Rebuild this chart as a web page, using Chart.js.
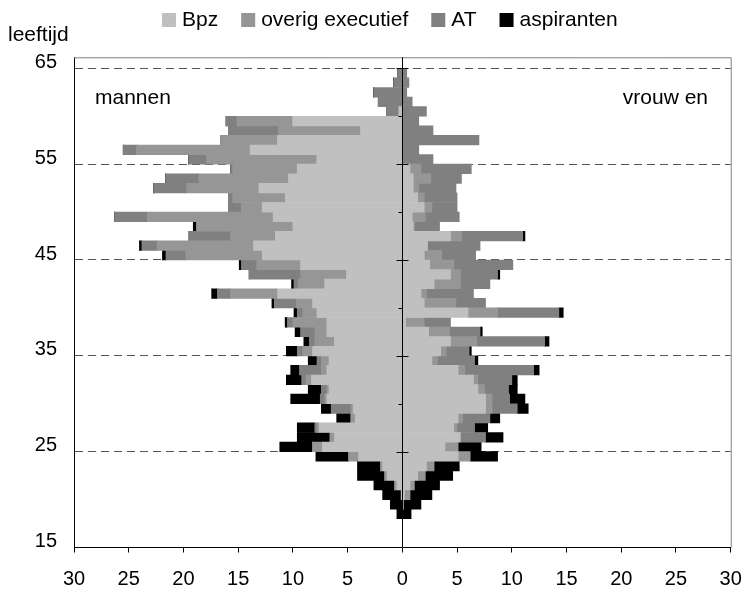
<!DOCTYPE html>
<html>
<head>
<meta charset="utf-8">
<script src="https://cdn.jsdelivr.net/npm/chart.js@4.4.1/dist/chart.umd.min.js"></script>
<style>
  html, body { margin: 0; padding: 0; background: #fff; }
  canvas { display: block; }
</style>
</head>
<body>
<canvas id="pyramid" width="742" height="590"></canvas>
<script>
// age per bar (each bar covers one year: age .. age+1)
const ages = [18, 19, 20, 21, 22, 23, 24, 25, 26, 27, 28, 29, 30, 31, 32, 33,
  34, 35, 36, 37, 38, 39, 40, 41, 42, 43, 44, 45, 46, 47, 48, 49, 50,
  51, 52, 53, 54, 55, 56, 57, 58, 59, 60, 61, 62, 63, 64];

// mannen (drawn to the left)
const menBpz = [0, 0, 0.1, 0.5, 1.4, 1.8, 4.0, 7.3, 6.2, 7.6, 4.3, 4.5, 6.9, 6.7, 8.3, 6.9,
  6.7, 8.2, 6.2, 6.9, 6.9, 7.8, 8.2, 11.4, 7.1, 5.1, 9.3, 12.8, 13.6, 11.6, 10.0, 11.8, 12.8,
  10.7, 13.1, 10.4, 9.6, 7.8, 13.9, 11.4, 3.8, 10.0, 0.3, 0, 0, 0, 0];
const menOverig = [0, 0, 0, 0.2, 0.2, 0.2, 0.9, 0.9, 0.4, 0.2, 0.4, 0.2, 0.2, 0.2, 0.5, 0.5,
  0.7, 0.9, 1.8, 1.1, 3.1, 1.3, 1.5, 4.3, 2.4, 4.2, 4.0, 7.0, 8.8, 4.1, 8.8, 11.5, 1.9,
  4.8, 6.6, 8.2, 5.9, 10.1, 10.4, 5.2, 7.5, 5.1, 0, 0, 0, 0, 0];
const menAT = [0, 0, 0, 0, 0, 0, 0, 0, 0, 0.2, 0, 1.8, 0.4, 0.5, 0.4, 2.0,
  0.4, 0.5, 0.5, 1.3, 0.5, 0.5, 2.0, 1.2, 0.4, 4.7, 1.4, 1.8, 1.4, 3.8, 0, 3.0, 1.2,
  0.4, 3.0, 3.0, 0.2, 1.6, 1.2, 0, 4.6, 1.0, 1.1, 2.2, 2.6, 0.8, 0.4];
const menAsp = [0.5, 1.1, 1.7, 1.9, 2.5, 2.1, 3.0, 3.0, 3.0, 1.6, 1.3, 0.9, 2.7, 1.2, 1.4, 0.8,
  0.8, 1.0, 0.5, 0.5, 0.2, 0.3, 0.2, 0.5, 0.2, 0, 0.2, 0.3, 0.2, 0, 0.3, 0, 0,
  0, 0, 0, 0, 0, 0, 0, 0, 0, 0, 0, 0, 0, 0];

// vrouwen (drawn to the right)
const womenBpz = [0, 0, 0.2, 0.7, 1.4, 2.2, 5.1, 3.9, 5.3, 4.7, 5.1, 7.6, 7.6, 6.9, 6.5, 5.1,
  2.7, 3.5, 4.4, 2.4, 0.3, 6.0, 2.0, 1.7, 2.9, 4.4, 2.5, 2.0, 2.3, 4.4, 1.0, 0.9, 2.0,
  1.4, 1.0, 1.0, 0.7, 0, 0, 0, 0, 0, 0, 0, 0, 0, 0];
const womenOverig = [0, 0.1, 0.5, 0.4, 0.7, 0.7, 1.1, 1.2, 0, 0.3, 0.4, 0.6, 0.6, 0.6, 0.4, 0.6,
  0.5, 0.5, 2.4, 1.9, 1.7, 2.7, 2.9, 0.5, 2.4, 0.9, 2.2, 1.6, 0, 1.0, 0.1, 1.2, 0.7,
  0.6, 0.5, 1.6, 1.0, 0, 0, 0, 0, 0, 0, 0, 0, 0, 0];
const womenAT = [0, 0, 0, 0, 0, 0, 0, 0, 2.3, 1.6, 2.5, 2.3, 1.6, 2.2, 3.1, 6.3,
  3.4, 2.1, 6.2, 2.8, 2.4, 5.6, 2.7, 4.3, 2.7, 3.4, 5.4, 3.1, 4.8, 5.6, 2.3, 3.1, 2.3,
  3.0, 3.4, 2.8, 4.6, 2.8, 1.5, 7.0, 2.8, 1.5, 2.2, 0.9, 0.4, 0.6, 0.4];
const womenAsp = [0.8, 1.6, 2.0, 2.3, 2.5, 2.3, 2.5, 2.1, 1.6, 1.2, 0.9, 1.0, 1.4, 0.8, 0.5, 0.5,
  0.3, 0.2, 0.4, 0.2, 0, 0.4, 0, 0, 0, 0.2, 0, 0, 0, 0.2, 0, 0, 0,
  0, 0, 0, 0, 0, 0, 0, 0, 0, 0, 0, 0, 0, 0];

const seriesNames = ['Bpz', 'overig executief', 'AT', 'aspiranten'];
const seriesColors = ['#c0c0c0', '#969696', '#808080', '#000000'];
const yTicks = [15, 25, 35, 45, 55, 65];
const xTicks = [-30, -25, -20, -15, -10, -5, 0, 5, 10, 15, 20, 25, 30];

const FONT = '21px "Liberation Sans", Arial, sans-serif';
Chart.defaults.font.family = '"Liberation Sans", Arial, sans-serif';
Chart.defaults.font.size = 20;
Chart.defaults.color = '#000';

const menSeries = [menBpz, menOverig, menAT, menAsp];
const womenSeries = [womenBpz, womenOverig, womenAT, womenAsp];

const datasets = [];
seriesNames.forEach((name, i) => {
  datasets.push({ label: name, data: menSeries[i].map(v => -v), backgroundColor: seriesColors[i] });
  datasets.push({ label: name, data: womenSeries[i], backgroundColor: seriesColors[i] });
});

// legend, side captions, plot frame and the ticks on the zero line
const decor = {
  id: 'decor',
  beforeDatasetsDraw(chart) {
    const { ctx, chartArea: a } = chart;
    ctx.save();
    ctx.strokeStyle = '#808080';
    ctx.lineWidth = 1;
    ctx.beginPath();
    ctx.moveTo(a.left, a.top + 0.5);
    ctx.lineTo(a.right + 0.5, a.top + 0.5);
    ctx.lineTo(a.right + 0.5, a.bottom);
    ctx.stroke();
    ctx.restore();
  },
  afterDatasetsDraw(chart) {
    const { ctx, chartArea: a, scales: { x, y } } = chart;
    const x0 = Math.round(x.getPixelForValue(0)) + 0.5;
    ctx.save();
    ctx.strokeStyle = '#000';
    ctx.lineWidth = 1;
    ctx.beginPath();
    ctx.moveTo(x0, a.top);
    ctx.lineTo(x0, a.bottom);
    for (let v = 20; v <= 65; v += 5) {
      const py = Math.round(y.getPixelForValue(v)) + 0.5;
      if (v % 10 === 5) {
        ctx.moveTo(x0 - 6, py);
        ctx.lineTo(x0 + 6, py);
      } else {
        ctx.moveTo(x0 - 4, py);
        ctx.lineTo(x0, py);
      }
    }
    ctx.stroke();
    ctx.restore();
  },
  afterDraw(chart) {
    const ctx = chart.ctx;
    ctx.save();
    ctx.font = FONT;
    ctx.fillStyle = '#000';
    ctx.textBaseline = 'middle';

    const box = 14, gap = 6, spacing = 23;
    let lx = 162;
    const ly = 20;
    seriesNames.forEach((n, i) => {
      ctx.fillStyle = seriesColors[i];
      ctx.fillRect(lx, Math.round(ly - box / 2), box, box);
      ctx.fillStyle = '#000';
      ctx.fillText(n, lx + box + gap, ly);
      lx += box + gap + ctx.measureText(n).width + spacing;
    });

    ctx.textAlign = 'left';
    ctx.fillText('leeftijd', 8, 35);
    ctx.textBaseline = 'alphabetic';
    ctx.fillText('mannen', 95, 104);
    ctx.textAlign = 'right';
    ctx.fillText('vrouw en', 708, 104);
    ctx.restore();
  }
};

new Chart(document.getElementById('pyramid'), {
  type: 'bar',
  data: { labels: ages.map(a => a + 0.5), datasets },
  options: {
    indexAxis: 'y',
    responsive: false,
    animation: false,
    layout: { padding: { top: 57.3, right: 11.3, bottom: 0, left: 0 } },
    datasets: { bar: { barPercentage: 1, categoryPercentage: 1, borderWidth: 0 } },
    plugins: { legend: { display: false }, tooltip: { enabled: false } },
    scales: {
      x: {
        type: 'linear',
        min: -30,
        max: 30,
        stacked: true,
        afterBuildTicks: s => { s.ticks = xTicks.map(v => ({ value: v })); },
        afterFit: s => {
          s.height = 42.5;
          s.paddingLeft = 0;
          s.paddingRight = 0;
        },
        ticks: { callback: v => Math.abs(v), padding: 15, maxRotation: 0 },
        grid: { drawOnChartArea: false, tickLength: 5, color: '#000' },
        border: { color: '#000' }
      },
      y: {
        type: 'linear',
        min: 15,
        max: 66.15,
        stacked: true,
        offset: false,
        afterBuildTicks: s => { s.ticks = yTicks.map(v => ({ value: v })); },
        afterFit: s => { s.width = 74; },
        ticks: { padding: 17, labelOffset: -6 },
        grid: {
          offset: false,
          drawTicks: false,
          color: c => (c.tick && c.tick.value === 15) ? 'rgba(0,0,0,0)' : '#555'
        },
        border: { color: '#000', dash: [8, 5] }
      }
    }
  },
  plugins: [decor]
});
</script>
</body>
</html>
